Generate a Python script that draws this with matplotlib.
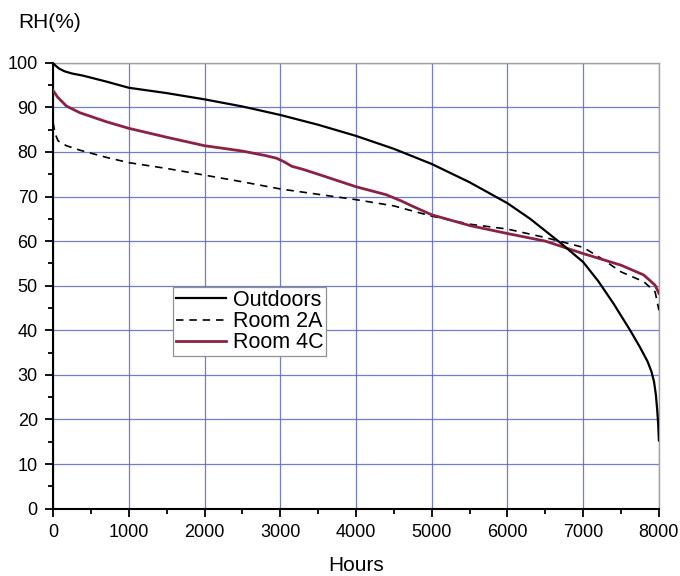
import numpy as np
import matplotlib
matplotlib.use("Agg")
import matplotlib.pyplot as plt
from matplotlib.ticker import MultipleLocator

plt.rcParams['font.family'] = ['Liberation Sans', 'DejaVu Sans']

# duration curves of relative humidity (hours sorted by RH)
hours_out = [0, 30, 80, 150, 250, 400, 700, 1000, 1500, 2000, 2500, 3000, 3500, 4000,
             4500, 5000, 5500, 6000, 6300, 6500, 6700, 7000, 7200, 7400, 7620, 7750,
             7850, 7900, 7935, 7960, 7978, 7990, 8000]
rh_out = [100, 99.4, 98.7, 98.1, 97.6, 97.1, 95.8, 94.4, 93.2, 91.8, 90.2, 88.3, 86.1, 83.6,
          80.7, 77.3, 73.2, 68.5, 65.0, 62.3, 59.6, 55.3, 51.0, 46.0, 40.0, 36.2,
          33.0, 30.8, 28.5, 25.5, 22.0, 19.0, 15.3]

hours_2a = [0, 30, 66, 176, 354, 700, 1000, 1500, 2000, 2500, 3000, 3500, 4000, 4500,
            5000, 5500, 6000, 6500, 7000, 7250, 7500, 7800, 7950, 8000]
rh_2a = [86.6, 84.0, 82.5, 81.4, 80.4, 78.8, 77.6, 76.3, 74.8, 73.3, 71.7, 70.5, 69.3, 67.9,
         65.6, 63.8, 62.7, 60.8, 58.6, 56.0, 53.1, 50.9, 48.6, 44.5]

hours_4c = [0, 60, 176, 354, 700, 1000, 1500, 2000, 2500, 2800, 2950, 3050, 3150, 3300,
            3500, 4000, 4400, 4600, 4750, 5000, 5500, 6000, 6500, 7000, 7500, 7800,
            7950, 8000]
rh_4c = [93.8, 92.3, 90.3, 88.8, 86.8, 85.3, 83.3, 81.4, 80.2, 79.2, 78.6, 77.8, 76.8, 76.1,
         75.0, 72.2, 70.4, 69.0, 67.8, 65.9, 63.5, 61.7, 60.0, 57.2, 54.6, 52.4,
         50.1, 48.3]

fig = plt.figure(figsize=(6.8, 5.76), dpi=100)
ax = fig.add_axes([0.078, 0.117, 0.891, 0.774])

ax.plot(hours_out, rh_out, color='black', lw=1.6, label='Outdoors', zorder=4)
ax.plot(hours_2a, rh_2a, color='black', lw=1.2, dashes=(4.5, 3.5), label='Room 2A', zorder=3)
ax.plot(hours_4c, rh_4c, color='#8a2342', lw=2.0, label='Room 4C', zorder=3)

ax.set_xlim(0, 8000)
ax.set_ylim(0, 100)
ax.xaxis.set_major_locator(MultipleLocator(1000))
ax.xaxis.set_minor_locator(MultipleLocator(500))
ax.yaxis.set_major_locator(MultipleLocator(10))
ax.yaxis.set_minor_locator(MultipleLocator(5))

ax.grid(True, which='major', color='#5a66c0', lw=0.9, alpha=0.85)
ax.set_axisbelow(True)

for side in ['left', 'bottom']:
    ax.spines[side].set_linewidth(1.5)
    ax.spines[side].set_color('black')
for side in ['top', 'right']:
    ax.spines[side].set_linewidth(1.0)
    ax.spines[side].set_color('#a0a0a0')

ax.tick_params(which='major', direction='out', length=6, width=1.3, labelsize=13, pad=5)
ax.tick_params(which='minor', direction='out', length=3.5, width=1.3)

ax.set_xlabel('Hours', fontsize=15, labelpad=11)
fig.text(0.0728, 0.961, 'RH(%)', fontsize=15, ha='center', va='center')

leg = ax.legend(loc='upper left', bbox_to_anchor=(0.198, 0.497), borderaxespad=0,
                fontsize=15.5, fancybox=False, framealpha=1, edgecolor='#909090',
                handlelength=2.35, handletextpad=0.3, labelspacing=0.02,
                borderpad=0.12)
leg.get_frame().set_linewidth(0.9)

fig.savefig('out.png', dpi=100)
